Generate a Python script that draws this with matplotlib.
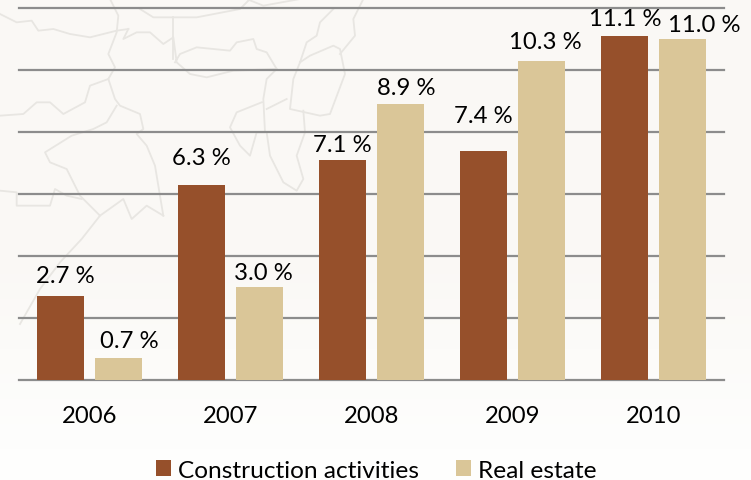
import numpy as np
import matplotlib
matplotlib.use("Agg")
import matplotlib.pyplot as plt

years = ["2006", "2007", "2008", "2009", "2010"]
construction = [2.7, 6.3, 7.1, 7.4, 11.1]
real_estate = [0.7, 3.0, 8.9, 10.3, 11.0]
series_names = ["Construction activities", "Real estate"]

# hand-placed label offsets from the top centre of each bar, in pixels (right, up)
construction_label_offsets = [(5, 21), (0, 27), (0, 15), (0, 35), (1, 17)]
real_estate_label_offsets = [(10, 18), (4, 14), (5, 17), (3, 19), (21, 14)]

BROWN = "#96502B"
BEIGE = "#DAC698"
GRID = "#8C8C8C"

plt.rcParams["font.family"] = ["Lato", "DejaVu Sans"]
W, H = 751, 481
fig = plt.figure(figsize=(W / 100, H / 100), dpi=100)

# soft paper-coloured background, fading to white at the bottom
bg = fig.add_axes([0, 0, 1, 1], zorder=0)
bg.axis("off")
grad = np.ones((H, 1, 3))
fade = np.clip((np.arange(H) - 250) / 200, 0, 1)[:, None]
top, bottom = np.array([250, 248, 245]) / 255, np.array([254, 254, 253]) / 255
grad[:, 0, :] = top + (bottom - top) * fade
bg.imshow(grad, aspect="auto", extent=[0, W, H, 0])

# faint map outlines (background decoration only, traced at 3x pixel scale)
map_outlines = [
    [(0, 45), (50, 70), (95, 65), (115, 95), (160, 90), (210, 105), (270, 115), (350, 95), (385, 90)],
    [(330, 0), (355, 50), (350, 100), (325, 165), (345, 205), (325, 240), (345, 300), (360, 320), (420, 345),
     (430, 390), (410, 405), (440, 440), (465, 500), (490, 650)],
    [(420, 30), (460, 55), (590, 55), (720, 30), (750, 0)],
    [(520, 55), (520, 180)],
    [(385, 90), (370, 120), (410, 100), (450, 100), (490, 135), (520, 115), (530, 190), (570, 225), (620, 235),
     (700, 215), (830, 210), (800, 160), (770, 150), (760, 120), (710, 130), (690, 155), (590, 145), (540, 165),
     (525, 190)],
    [(1000, 30), (960, 70), (950, 110), (920, 130), (900, 190), (880, 240), (870, 330), (960, 350), (990, 345),
     (1035, 225), (1020, 150), (1000, 140), (930, 170), (900, 190)],
    [(1020, 165), (1065, 110), (1060, 60), (1090, 0)],
    [(830, 210), (800, 240), (790, 300), (795, 400), (770, 400), (750, 470), (720, 440), (690, 385), (710, 340),
     (785, 310)],
    [(800, 330), (860, 300)],
    [(910, 335), (915, 400), (890, 470), (910, 540), (890, 575), (850, 550), (810, 470), (800, 400)],
    [(325, 240), (270, 260), (255, 310), (190, 345), (150, 310), (110, 310), (70, 345), (0, 350)],
    [(350, 320), (320, 370), (280, 390), (215, 410), (135, 460), (150, 490), (200, 510), (240, 590), (300, 650),
     (245, 720), (180, 790), (120, 870), (60, 975)],
    [(0, 575), (50, 580), (50, 620), (150, 620), (165, 570), (200, 590), (245, 600)],
    [(300, 650), (370, 600), (395, 660), (440, 620), (490, 650)],
    [(740, 0), (790, 20), (900, 0)],
]
for pts in map_outlines:
    xs, ys = zip(*pts)
    bg.plot(np.array(xs) / 3, np.array(ys) / 3, color="#E8E6E2", lw=1.3, zorder=1)
bg.set_xlim(0, W)
bg.set_ylim(H, 0)

ax = fig.add_axes([19 / W, 1 - 381 / H, 705 / W, 372 / H], zorder=2)
ax.patch.set_alpha(0)
x = np.arange(len(years))
off, bw = 0.208, 0.335
b1 = ax.bar(x - off, construction, bw, color=BROWN, label=series_names[0], zorder=3)
b2 = ax.bar(x + off, real_estate, bw, color=BEIGE, label=series_names[1], zorder=3)

ax.set_xlim(-0.5, 4.5)
ax.set_ylim(0, 12)
ax.set_yticks(range(0, 13, 2))
ax.set_yticklabels([])
ax.tick_params(axis="y", length=0)
ax.tick_params(axis="x", length=0, pad=18, labelsize=17.2, colors="black")
ax.set_xticks(x)
ax.set_xticklabels(years)
ax.grid(axis="y", color=GRID, lw=1.6, zorder=1)
ax.set_axisbelow(True)
for s in ax.spines.values():
    s.set_visible(False)
for c in ax.get_ygridlines():
    c.set_clip_on(False)

px = 72 / 100  # points per pixel
for bars, vals, offs in ((b1, construction, construction_label_offsets),
                         (b2, real_estate, real_estate_label_offsets)):
    for r, v, (dx, dy) in zip(bars, vals, offs):
        ax.annotate(f"{v:.1f} %", (r.get_x() + r.get_width() / 2, v),
                    xytext=(dx * px, dy * px), textcoords="offset points",
                    ha="center", va="center", fontsize=17.2, color="black", zorder=5,
                    annotation_clip=False)

fig.legend(handles=[b1, b2], loc="center left", bbox_to_anchor=(156 / W, 1 - 471.5 / H),
           ncol=2, frameon=False, fontsize=17.6, handlelength=0.62, handleheight=0.62,
           handletextpad=0.29, columnspacing=1.5, borderpad=0, borderaxespad=0,
           labelcolor="black")

fig.savefig("out.png", dpi=100)
